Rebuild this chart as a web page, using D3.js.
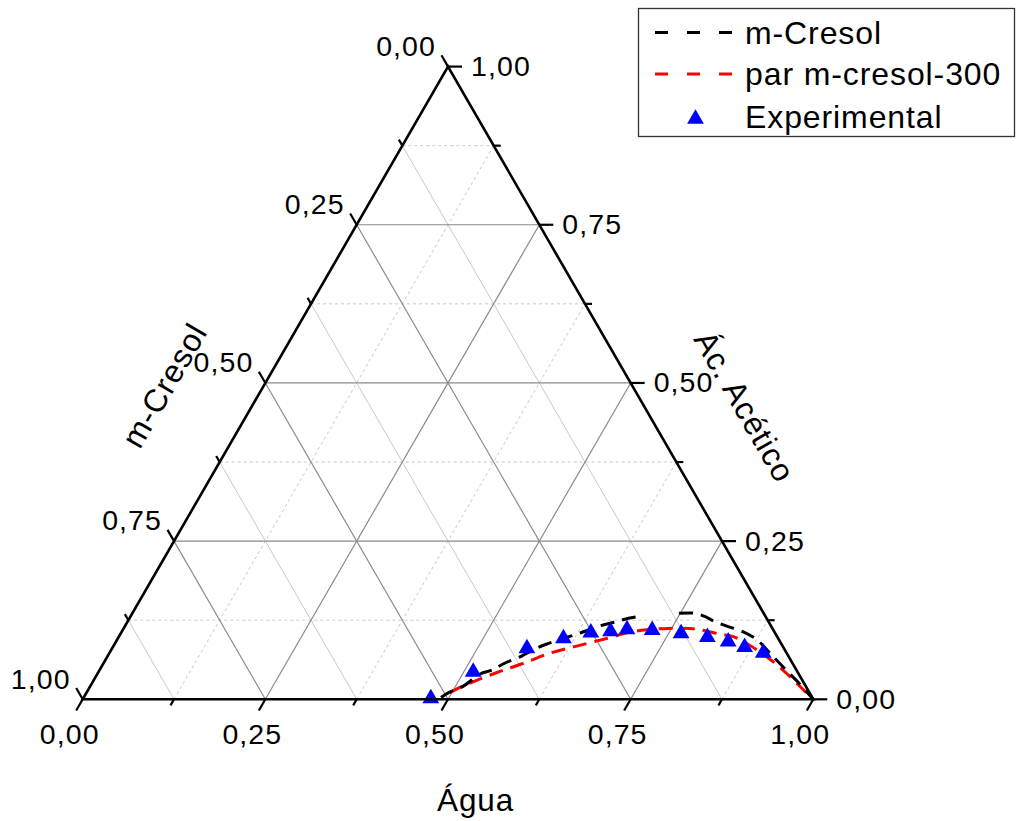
<!DOCTYPE html>
<html>
<head>
<meta charset="utf-8">
<script src="https://cdn.jsdelivr.net/npm/d3@7"></script>
<style>
  body { margin: 0; background: #fff; }
  svg { display: block; }
  text { font-family: "Liberation Sans", Arial, sans-serif; fill: #000; }
</style>
</head>
<body>
<svg id="chart" width="1017" height="821"></svg>
<script>
// Ternary LLE diagram: Água (bottom), Ác. Acético (right), m-Cresol (left)

const majorTicks = [0, 0.25, 0.5, 0.75, 1];
const minorTicks = [0.125, 0.375, 0.625, 0.875];
const gridMajor = [0.25, 0.5, 0.75];

const titleWater = "Água";
const titleAcid = "Ác. Acético";
const titleCresol = "m-Cresol";
const legendLabels = ["m-Cresol", "par m-cresol-300", "Experimental"];

// Experimental points (mass fractions of water and acetic acid)
const expWater = [0.474, 0.511, 0.566, 0.608, 0.641, 0.667, 0.688, 0.723, 0.765, 0.804, 0.836, 0.863, 0.893];
const expAcid  = [0.005, 0.047, 0.084, 0.100, 0.109, 0.111, 0.114, 0.113, 0.108, 0.102, 0.095, 0.086, 0.077];

// m-Cresol model binodal, cresol-rich branch
const modelWaterA = [0.489, 0.496, 0.510, 0.524, 0.537, 0.549, 0.565, 0.581, 0.591, 0.614, 0.625, 0.650, 0.670, 0.683, 0.701];
const modelAcidA  = [0.003, 0.011, 0.020, 0.040, 0.046, 0.057, 0.067, 0.081, 0.087, 0.098, 0.103, 0.116, 0.123, 0.128, 0.132];
// m-Cresol model binodal, water-rich branch
const modelWaterB = [0.748, 0.770, 0.786, 0.801, 0.826, 0.850, 0.876, 0.904, 0.940, 0.971, 1.000];
const modelAcidB  = [0.136, 0.136, 0.131, 0.124, 0.115, 0.107, 0.094, 0.073, 0.046, 0.023, 0.000];

// par m-cresol-300 binodal
const parWater = [0.497, 0.510, 0.526, 0.549, 0.575, 0.603, 0.634, 0.669, 0.696, 0.717, 0.745, 0.775, 0.790, 0.821, 0.841, 0.884, 0.916, 0.950, 0.979, 1.000];
const parAcid  = [0.010, 0.021, 0.031, 0.044, 0.057, 0.073, 0.084, 0.096, 0.106, 0.110, 0.112, 0.112, 0.110, 0.103, 0.099, 0.078, 0.059, 0.036, 0.015, 0.000];

// ---- geometry ----
const x0 = 82.7, y0 = 699.3, side = 730.6;
const h = side * Math.sqrt(3) / 2;
const xs = d3.scaleLinear().domain([0, 1]).range([x0, x0 + side]);
const ys = d3.scaleLinear().domain([0, 1]).range([y0, y0 - h]);
// (water, acid) -> screen
const pt = (w, a) => [xs(w + a / 2), ys(a)];

const fmt = d3.formatLocale({ decimal: ",", thousands: ".", grouping: [3], currency: ["", ""] }).format(".2f");

const svg = d3.select("#chart");
const gGrid = svg.append("g");
const gData = svg.append("g");
const gAxes = svg.append("g");
const gText = svg.append("g");

// ---- grid ----
function gridLine(p, q, stroke, dash, width) {
  gGrid.append("line")
    .attr("x1", p[0]).attr("y1", p[1]).attr("x2", q[0]).attr("y2", q[1])
    .attr("stroke", stroke).attr("stroke-width", width || 1)
    .attr("stroke-dasharray", dash || null);
}
minorTicks.forEach(v => {
  // constant cresol: solid light
  gridLine(pt(1 - v, 0), pt(0, 1 - v), "#c8c8c8");
  // constant acid: dashed
  gridLine(pt(0, v), pt(1 - v, v), "#c8c8c8", "3,3");
  // constant water: dashed
  gridLine(pt(v, 0), pt(v, 1 - v), "#c8c8c8", "3,3");
});
gridMajor.forEach(v => {
  gridLine(pt(1 - v, 0), pt(0, 1 - v), "#8a8a8a", null, 1.2);
  gridLine(pt(0, v), pt(1 - v, v), "#8a8a8a", null, 1.2);
  gridLine(pt(v, 0), pt(v, 1 - v), "#8a8a8a", null, 1.2);
});

// ---- curves ----
const line = d3.line().curve(d3.curveCatmullRom.alpha(0.5));
function curve(water, acid, color) {
  gData.append("path")
    .attr("d", line(water.map((w, i) => pt(w, acid[i]))))
    .attr("fill", "none").attr("stroke", color)
    .attr("stroke-width", 3).attr("stroke-dasharray", "14,8");
}
curve(parWater, parAcid, "#ff0000");
curve(modelWaterA, modelAcidA, "#000000");
curve(modelWaterB, modelAcidB, "#000000");

// ---- experimental markers ----
const tri = "M0,-7.3L8.4,7.2L-8.4,7.2Z";
gData.selectAll("path.exp").data(expWater).enter().append("path")
  .attr("class", "exp")
  .attr("d", tri)
  .attr("transform", (w, i) => { const p = pt(w, expAcid[i]); return `translate(${p[0]},${p[1]})`; })
  .attr("fill", "#0000ff");

// ---- triangle frame ----
gAxes.append("path")
  .attr("d", d3.line()([pt(0, 0), pt(1, 0), pt(0, 1)]) + "Z")
  .attr("fill", "none").attr("stroke", "#000").attr("stroke-width", 2.6)
  .attr("stroke-linejoin", "miter");

function tick(p, dx, dy, len) {
  gAxes.append("line")
    .attr("x1", p[0]).attr("y1", p[1])
    .attr("x2", p[0] + dx * len).attr("y2", p[1] + dy * len)
    .attr("stroke", "#000").attr("stroke-width", 2.2);
}
const c60 = 0.5, s60 = Math.sqrt(3) / 2;
majorTicks.forEach(v => {
  tick(pt(v, 0), -c60, s60, 13);          // water
  tick(pt(1 - v, v), 1, 0, 14);            // acid
  tick(pt(0, 1 - v), -c60, -s60, 13);      // cresol
});
minorTicks.forEach(v => {
  tick(pt(v, 0), -c60, s60, 7);
  tick(pt(1 - v, v), 1, 0, 7);
  tick(pt(0, 1 - v), -c60, -s60, 7);
});

// ---- tick labels ----
const tickFont = { size: 28.5, ls: 1.1 };
majorTicks.forEach(v => {
  const pb = pt(v, 0);
  gText.append("text").attr("x", pb[0] - 13).attr("y", 743.5)
    .attr("text-anchor", "middle").attr("font-size", tickFont.size)
    .attr("letter-spacing", tickFont.ls).text(fmt(v));
  const pr = pt(1 - v, v);
  gText.append("text").attr("x", pr[0] + 23).attr("y", pr[1] + 9.5)
    .attr("text-anchor", "start").attr("font-size", tickFont.size)
    .attr("letter-spacing", tickFont.ls).text(fmt(v));
  const pl = pt(0, 1 - v);
  gText.append("text").attr("x", pl[0] - 13 * c60 - 5.5).attr("y", pl[1] - 13 * s60 + 0.5)
    .attr("text-anchor", "end").attr("font-size", tickFont.size)
    .attr("letter-spacing", tickFont.ls).text(fmt(v));
});

// ---- axis titles ----
const titleSize = 32, titleLs = 0.9;
gText.append("text").attr("x", 437).attr("y", 811)
  .attr("text-anchor", "start").attr("font-size", 31.5)
  .attr("letter-spacing", 0.9).text(titleWater);
gText.append("text").attr("transform", "translate(174,391) rotate(-60)")
  .attr("text-anchor", "middle").attr("font-size", titleSize)
  .attr("letter-spacing", titleLs).text(titleCresol);
gText.append("text").attr("transform", "translate(735,412) rotate(60)")
  .attr("text-anchor", "middle").attr("font-size", titleSize)
  .attr("letter-spacing", titleLs).text(titleAcid);

// ---- legend ----
const lg = svg.append("g");
lg.append("rect").attr("x", 638.5).attr("y", 8.5).attr("width", 376).attr("height", 128)
  .attr("fill", "#fff").attr("stroke", "#333").attr("stroke-width", 1.3);
const rowY = [32.5, 74, 116.5];
const legendColors = ["#000000", "#ff0000"];
[0, 1].forEach(i => {
  lg.append("line").attr("x1", 655).attr("x2", 734).attr("y1", rowY[i]).attr("y2", rowY[i])
    .attr("stroke", legendColors[i]).attr("stroke-width", 3).attr("stroke-dasharray", "13,19");
});
lg.append("path").attr("d", tri).attr("transform", `translate(695.5,${rowY[2]})`).attr("fill", "#0000ff");
legendLabels.forEach((t, i) => {
  lg.append("text").attr("x", 745).attr("y", rowY[i] + 11)
    .attr("font-size", titleSize).attr("letter-spacing", titleLs).text(t);
});
</script>
</body>
</html>
